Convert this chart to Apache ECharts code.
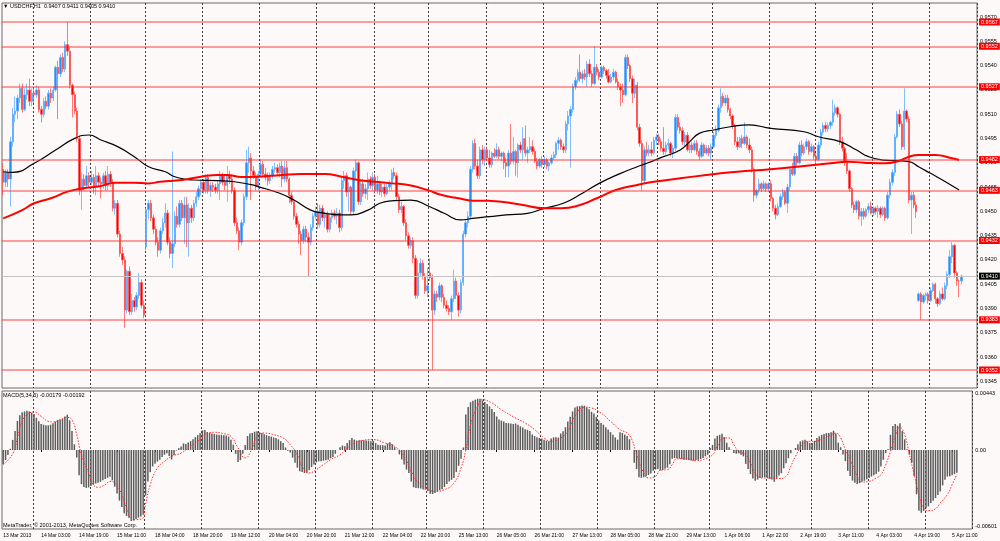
<!DOCTYPE html>
<html><head><meta charset="utf-8">
<script src="https://cdn.jsdelivr.net/npm/echarts@6/dist/echarts.min.js"></script>
<style>html,body{margin:0;padding:0;background:#fdf9f8}#c{width:1000px;height:541px}</style>
</head><body><div id="c"></div>
<script>
// ---- data (prices in pips above 0.9300, MACD in units of 0.00001) ----
const symbol = 'USDCHF,H1';
const xLabels = ['13 Mar 2013','14 Mar 03:00','14 Mar 19:00','15 Mar 11:00','18 Mar 04:00','18 Mar 20:00','19 Mar 12:00','20 Mar 04:00','20 Mar 20:00','21 Mar 12:00','22 Mar 04:00','22 Mar 20:00','25 Mar 13:00','26 Mar 05:00','26 Mar 21:00','27 Mar 13:00','28 Mar 05:00','28 Mar 21:00','29 Mar 13:00','1 Apr 06:00','1 Apr 22:00','2 Apr 19:00','3 Apr 11:00','4 Apr 03:00','4 Apr 19:00','5 Apr 11:00'];
const dayIdx = [13,37,60,84,108,132,156,179,203,227,251,275,298,322,341,365,389];
const priceTicks = [45,60,75,90,105,120,135,150,165,180,195,210,225,240,255,270];
const macdTicks = [443,0,-601];
const levels = [267,252,227,182,163,132,83,52];
const lastPrice = 110;

const opens = [
176,168,174,170,193,210,212,220,226,213,
222,225,218,223,222,225,213,210,218,215,
223,220,225,239,235,245,238,253,249,228,
222,212,195,163,170,166,172,168,171,165,
172,168,167,172,166,173,168,152,155,136,
124,120,89,113,88,95,91,98,106,92,
128,151,155,146,139,131,126,138,143,149,
131,124,130,147,142,155,146,154,143,152,
146,155,159,164,168,163,171,163,166,165,
163,167,172,168,166,172,170,163,143,138,
131,143,159,180,183,175,172,165,173,179,
173,171,169,172,176,177,174,178,170,177,
170,160,156,147,142,136,132,139,134,131,
140,147,150,142,152,146,148,139,146,149,
147,149,140,169,172,162,165,150,175,180,
156,167,161,164,170,166,171,163,167,162,
165,161,165,167,174,172,159,151,153,143,
135,129,132,121,98,112,118,110,101,112,
109,89,99,97,104,97,92,90,88,96,
107,98,89,106,136,143,147,176,192,178,
172,188,182,188,183,179,186,184,188,184,
186,180,178,186,181,187,180,191,188,195,
186,188,190,187,181,178,182,179,182,178,
180,183,185,192,194,190,188,204,209,213,
227,231,236,232,235,233,241,235,229,239,
236,233,239,237,234,230,233,236,230,227,
225,222,245,240,232,223,228,202,192,169,
188,186,188,186,194,196,193,189,187,191,
192,186,189,208,202,200,193,197,188,191,
188,192,187,184,191,186,189,186,190,197,
200,214,221,217,220,213,209,203,193,190,
195,192,196,191,188,176,160,163,167,164,
167,164,167,158,152,148,153,159,162,155,
165,176,173,184,180,191,186,190,193,187,
190,184,182,191,199,203,201,203,205,211,
214,210,193,189,181,175,164,154,151,156,
147,150,147,151,153,149,152,150,152,148,
152,146,160,168,174,196,210,204,190,212,
207,157,160,154,95,99,94,98,99,95,
101,105,96,93,99,96,104,111,122,129,
112,107,107];
const highs = [
180,176,176,196,214,221,222,229,229,226,
229,232,226,226,228,227,215,220,221,225,
226,227,240,243,247,248,255,267,251,229,
224,214,197,174,173,178,174,175,173,178,
174,171,174,175,178,175,170,157,157,138,
128,122,114,116,99,97,100,112,108,95,
152,157,157,148,141,134,140,146,155,151,
134,187,150,153,157,157,159,159,155,154,
157,162,166,170,170,173,173,168,168,167,
169,175,174,173,178,175,172,165,146,140,
145,161,188,190,186,178,174,175,182,181,
177,174,174,178,180,179,180,181,181,181,
171,162,158,149,144,138,141,141,137,142,
149,153,155,154,154,150,150,148,151,151,
152,151,171,175,174,168,166,177,182,181,
169,170,167,174,172,174,173,172,169,167,
167,167,169,176,177,174,161,156,154,145,
137,134,134,123,120,121,120,112,115,121,
111,101,101,106,105,99,95,92,98,114,
109,100,108,138,145,150,178,194,195,182,
190,191,190,190,188,187,189,192,190,187,
187,183,188,204,196,188,192,193,202,203,
190,196,194,189,183,183,184,184,183,181,
185,187,193,196,195,192,206,212,215,229,
233,238,247,237,238,243,244,237,252,241,
238,240,240,238,238,235,238,237,232,229,
229,247,247,241,234,232,230,204,194,190,
193,191,193,196,198,198,195,202,193,195,
193,191,210,210,205,202,199,199,193,193,
194,194,189,193,192,191,191,192,199,203,
216,226,223,222,222,214,210,204,196,196,
197,205,197,195,190,177,164,170,168,169,
168,168,169,159,154,155,161,164,163,167,
178,180,186,186,193,194,192,195,194,192,
191,186,193,201,205,205,205,206,219,216,
215,211,196,190,186,176,165,156,157,157,
152,152,152,155,156,153,153,154,153,153,
153,162,170,176,198,212,213,206,226,213,
209,162,162,156,100,100,99,100,100,103,
106,106,97,101,103,106,113,126,131,130,
113,108,111];
const lows = [
160,165,165,153,190,205,207,217,211,212,
219,215,215,217,220,211,205,208,213,213,
217,218,224,207,233,236,236,246,226,208,
210,193,160,151,163,164,165,166,161,160,
165,158,164,163,163,165,150,148,134,122,
117,78,87,86,86,88,89,96,90,84,
126,145,144,136,129,122,124,136,140,129,
121,115,128,140,140,144,130,128,122,143,
144,153,157,160,161,161,161,159,162,161,
161,157,166,163,156,167,161,141,136,126,
129,141,157,174,157,170,163,163,171,171,
169,166,167,170,174,172,171,165,168,168,
155,154,145,140,130,123,130,131,110,129,
138,145,139,140,144,140,137,137,143,145,
142,137,138,164,159,150,148,148,170,154,
154,159,158,157,164,163,161,161,160,159,
159,160,163,163,170,157,149,149,141,132,
127,127,118,96,96,110,108,99,97,107,
52,86,94,95,94,90,88,86,83,94,
96,85,87,104,134,140,145,174,176,170,
170,179,178,181,177,177,183,183,182,181,
176,171,171,179,179,172,171,186,182,184,
180,186,185,180,176,177,177,177,176,175,
179,182,183,188,188,186,186,200,177,211,
225,229,230,229,231,227,233,227,228,234,
231,232,235,232,229,229,231,229,225,215,
217,221,238,230,217,220,200,190,163,167,
184,184,184,185,191,191,187,185,185,188,
184,183,187,200,198,191,190,187,186,186,
187,185,182,183,184,185,184,182,189,195,
199,211,215,215,211,207,201,191,188,189,
189,191,189,186,174,156,158,161,162,163,
162,162,156,150,145,147,152,157,154,149,
163,172,172,178,179,184,185,188,185,186,
182,179,181,189,197,199,199,201,203,209,
208,191,187,178,173,162,152,149,149,145,
141,145,146,149,148,147,148,146,146,147,
144,145,158,166,172,195,202,188,188,205,
155,136,152,146,94,83,93,95,93,94,
100,93,91,92,95,95,102,109,118,109,
104,97,105];
const closes = [
168,174,170,193,210,212,220,226,213,222,
225,218,223,222,225,213,210,218,215,223,
220,225,239,235,245,238,253,249,228,222,
212,195,163,170,166,172,168,171,165,172,
168,167,172,166,173,168,152,155,136,124,
120,89,113,88,95,91,98,106,92,86,
151,155,146,139,131,126,138,143,149,131,
124,130,147,142,155,146,154,143,152,146,
155,159,164,168,163,171,163,166,165,163,
167,172,168,166,172,170,163,143,138,131,
143,159,180,183,175,172,165,173,179,173,
171,169,172,176,177,174,178,170,177,170,
160,156,147,142,136,132,139,134,131,140,
147,150,142,152,146,148,139,146,149,147,
149,140,169,172,162,165,150,175,180,156,
167,161,164,170,166,171,163,167,162,165,
161,165,167,174,172,159,151,153,143,135,
129,132,121,98,112,118,110,101,104,109,
89,99,97,104,97,92,90,88,96,107,
98,89,106,136,143,147,176,192,178,172,
188,182,188,183,179,186,184,188,184,186,
180,178,186,181,187,180,191,188,195,186,
188,190,187,181,178,182,179,182,178,180,
183,185,192,194,190,188,204,209,213,227,
231,236,232,235,233,241,235,229,239,236,
233,239,237,234,230,233,236,230,227,225,
222,245,240,232,223,228,202,192,169,188,
186,188,186,194,196,193,189,187,191,192,
186,189,208,202,200,193,197,188,191,188,
192,187,184,191,186,189,186,190,197,200,
214,221,217,220,213,209,203,193,190,195,
192,196,191,188,176,160,163,167,164,167,
164,167,158,152,148,153,159,162,155,165,
176,173,184,180,191,186,190,193,187,190,
184,182,191,199,203,201,203,205,211,214,
210,193,189,181,175,164,154,151,156,147,
150,147,151,153,149,152,150,152,148,152,
146,160,168,174,196,210,204,190,212,207,
157,160,154,150,99,94,98,99,95,101,
105,96,93,99,96,104,111,122,129,112,
107,107,110];
const macdHist = [
-110,-80,-40,10,80,150,230,275,298,305,
310,305,295,285,255,228,205,200,195,195,
200,212,225,238,240,245,265,278,235,150,
45,-60,-200,-270,-293,-300,-296,-285,-275,-265,
-260,-252,-240,-230,-220,-212,-240,-290,-345,-400,
-450,-500,-522,-535,-562,-558,-546,-535,-525,-512,
-360,-250,-175,-130,-108,-92,-78,-55,-38,-25,
-48,-75,-40,-5,15,28,52,48,60,70,
85,102,118,135,155,158,142,135,130,127,
122,120,120,116,114,106,82,42,-30,-95,
-80,-30,40,110,130,135,145,148,140,132,
124,118,110,106,100,94,84,70,56,20,
-5,-20,-60,-100,-140,-168,-174,-182,-180,-160,
-135,-115,-98,-90,-88,-84,-82,-77,-65,-55,
-30,0,22,36,30,55,78,95,82,75,
78,76,78,76,74,69,72,55,42,38,
37,35,50,62,45,22,2,-35,-75,-115,
-155,-182,-250,-295,-300,-302,-305,-312,-314,-325,
-346,-348,-340,-328,-318,-310,-292,-268,-250,-236,
-222,-175,-125,-70,20,280,340,378,390,398,
405,405,392,380,364,345,325,300,265,242,
232,226,214,212,210,206,210,200,187,178,
164,160,150,122,110,100,95,90,82,74,
69,90,100,100,98,130,148,180,225,262,
305,336,345,347,352,350,336,322,302,288,
262,234,214,200,180,162,142,121,100,82,
140,135,122,110,85,0,-100,-150,-215,-220,
-215,-208,-198,-185,-165,-155,-150,-162,-158,-148,
-140,-112,-70,-63,-63,-68,-72,-77,-78,-80,
-84,-84,-80,-78,-71,-63,-50,-37,15,40,
90,112,120,128,102,58,22,2,-24,-30,
-26,-37,-50,-110,-150,-190,-226,-243,-234,-222,
-218,-214,-220,-228,-234,-252,-222,-202,-184,-145,
-105,-65,-26,0,16,45,68,76,82,68,
56,55,72,94,108,120,127,134,134,140,
152,130,58,22,-35,-88,-165,-206,-242,-260,
-268,-262,-252,-243,-232,-221,-210,-200,-190,-172,
-130,-78,-25,5,120,190,206,192,212,150,
85,5,-37,-100,-205,-350,-480,-496,-482,-460,
-446,-420,-402,-380,-355,-328,-280,-236,-210,-207,
-200,-190,-179];
const macdSignal = [[0,-116],[4,-30],[6,95],[8,227],[11,292],[13,300],[16,266],[19,227],[21,222],[24,240],[27,258],[29,240],[31,121],[33,-37],[36,-182],[38,-274],[40,-295],[43,-274],[45,-248],[47,-261],[50,-353],[52,-459],[55,-551],[59,-537],[60,-432],[62,-274],[65,-142],[68,-90],[71,-50],[75,-24],[79,29],[82,69],[85,121],[89,140],[93,129],[96,108],[99,16],[102,-63],[105,16],[107,108],[110,134],[114,121],[118,95],[121,42],[124,-37],[126,-129],[129,-182],[132,-155],[135,-116],[138,-77],[142,-37],[146,29],[150,69],[156,82],[161,55],[165,29],[169,-50],[172,-169],[175,-261],[178,-300],[182,-327],[186,-314],[190,-261],[193,-142],[195,0],[197,200],[200,345],[202,398],[206,372],[210,319],[216,253],[220,214],[224,161],[228,95],[231,69],[235,95],[238,148],[241,266],[245,338],[248,332],[252,292],[256,227],[260,161],[263,134],[265,82],[267,-37],[270,-182],[272,-221],[275,-208],[277,-160],[280,-155],[282,-116],[284,-69],[288,-69],[292,-84],[296,-69],[299,-37],[301,29],[304,95],[306,95],[308,42],[310,-11],[313,-37],[315,-103],[317,-182],[320,-221],[324,-221],[327,-227],[330,-208],[332,-129],[334,-50],[337,42],[340,69],[342,69],[346,95],[349,121],[351,134],[353,95],[355,3],[358,-116],[360,-208],[362,-253],[365,-248],[368,-221],[370,-195],[372,-116],[374,-11],[376,108],[378,179],[380,121],[382,-37],[384,-195],[386,-353],[388,-459],[390,-480],[393,-464],[395,-419],[398,-353],[400,-274],[402,-192]];
const maBlack = [[0,174.5],[4,174.1],[13,179.7],[22,187.9],[30,195.1],[36,197.2],[41,194.1],[48,190],[55,183.8],[61,177.6],[68,174.5],[72,171.4],[80,169.4],[90,169],[97,168.3],[104,166.5],[107,165.3],[116,161.2],[122,157],[129,150.8],[135,148.8],[142,147.8],[146,147.8],[153,150.8],[158,155],[164,156.6],[171,157],[179,152.9],[185,148.8],[192,144.7],[197,145.7],[204,146.7],[211,147.8],[220,148.8],[227,151.9],[235,155],[243,161.2],[250,167.3],[259,173.5],[266,177.6],[270,179.7],[277,183.8],[284,187.9],[288,193.1],[292,198.2],[298,200.3],[305,202.3],[313,203.4],[322,201.3],[336,199.2],[342,196.1],[351,193.1],[358,187.9],[363,183.8],[369,181.7],[375,181.3],[380,180.7],[384,177.6],[389,173.5],[394,169.4],[401,163.2]];
const maRed = [[0,145.7],[8,150.8],[13,155],[20,158.1],[27,162.2],[33,164.2],[41,165.7],[47,167.7],[55,167.7],[61,167.3],[66,168.3],[75,169.4],[83,171.4],[90,172.5],[94,172.5],[100,171.2],[107,171.4],[117,172.5],[125,173.1],[135,173.1],[142,171.4],[149,169.4],[156,168.3],[163,167.3],[170,166.3],[178,163.2],[184,160.1],[191,158.1],[197,156.6],[204,156.5],[209,156],[218,153.9],[227,151.9],[234,151.9],[242,153.9],[249,158.1],[257,163.2],[266,166.3],[273,168.3],[284,170.4],[295,172.5],[301,173.5],[308,174.5],[322,176],[333,177.6],[347,179.7],[354,180.7],[361,180.1],[370,179.7],[376,181.3],[380,183.8],[384,184.8],[391,184.8],[398,182.8],[401,181.7]];

// ---- chart ----
const nSlots = 409;
const FONT = 'Liberation Sans, Arial, sans-serif';
const fmt = v => ((9300 + v) / 10000).toFixed(4);
const fmtM = v => v === 0 ? '0.00' : (v / 100000).toFixed(5);
const categories = Array.from({length: nSlots}, (_, i) => String(i));
const daySet = new Set(dayIdx);
const dayFn = i => daySet.has(i);
const labFn = i => i % 16 === 0 && i / 16 < xLabels.length;
const candles = opens.map((o, i) => [o, closes[i], lows[i], highs[i]]);
const n = opens.length - 1;
const txt = {fontSize: 5.5, fontWeight: 'normal', color: '#000', fontFamily: FONT};

const chart = echarts.init(document.getElementById('c'), null, {renderer: 'canvas'});
chart.setOption({
  animation: false,
  backgroundColor: '#fdf9f8',
  title: [
    {text: '\u25BC ' + symbol + '  ' + [opens[n], highs[n], lows[n], closes[n]].map(fmt).join(' '), left: 3, top: 3, padding: 0, textStyle: txt},
    {text: 'MACD(5,34,5) ' + fmtM(macdHist[n]) + ' ' + fmtM(macdSignal[macdSignal.length - 1][1]), left: 3, top: 392, padding: 0, textStyle: txt},
    {text: 'MetaTrader, \u00A9 2001-2013, MetaQuotes Software Corp.', left: 3, top: 522, padding: 0, textStyle: txt}
  ],
  grid: [
    {left: 2, right: 23, top: 3, bottom: 153, show: true, borderColor: '#6a6a6a', borderWidth: 1},
    {left: 2, right: 23, top: 391, bottom: 12, show: true, borderColor: '#6a6a6a', borderWidth: 1}
  ],
  xAxis: [0, 1].map(g => ({
    type: 'category', gridIndex: g, data: categories, boundaryGap: true,
    axisLine: {show: false},
    axisTick: {show: g === 1, interval: labFn, alignWithLabel: true, length: 2, lineStyle: {color: '#000'}},
    axisLabel: {show: g === 1, interval: labFn, formatter: (v, i) => xLabels[i / 16] || '', align: 'left',
      fontSize: 5, color: '#000', fontFamily: FONT, margin: 4},
    splitLine: {show: true, interval: dayFn, lineStyle: {color: '#3c3c3c', width: 1, type: [2, 2]}}
  })),
  yAxis: [
    {type: 'value', gridIndex: 0, position: 'right', min: 40.88, max: 278.74, scale: true,
      axisLine: {show: false}, splitLine: {show: false},
      axisTick: {show: false},
      axisLabel: {customValues: priceTicks, formatter: v => fmt(v), fontSize: 5.5, color: '#000', fontFamily: FONT, margin: 3}},
    {type: 'value', gridIndex: 1, position: 'right', min: -624.8, max: 466.6,
      axisLine: {show: false}, splitLine: {show: false},
      axisTick: {show: false},
      axisLabel: {customValues: macdTicks, formatter: v => fmtM(v), fontSize: 5.5, color: '#000', fontFamily: FONT, margin: 3}}
  ],
  series: [
    {type: 'candlestick', xAxisIndex: 0, yAxisIndex: 0, data: candles, barWidth: 1.9,
      itemStyle: {color: '#1e90ff', color0: '#ff0000', borderColor: '#5aaaff', borderColor0: '#ff5050', borderColorDoji: '#ff5050', borderWidth: 0.75},
      markLine: {
        symbol: 'none', silent: true, animation: false,
        lineStyle: {color: 'rgba(255,40,40,0.6)', width: 1.5, type: 'solid'},
        label: {position: 'end', distance: 2, formatter: p => fmt(p.value), color: '#fff', backgroundColor: '#ff0000',
          fontSize: 5.5, fontFamily: FONT, padding: [1, 2, 0, 2]},
        data: levels.map(v => ({yAxis: v})).concat([
          {yAxis: lastPrice, lineStyle: {color: '#c4c4c4', width: 1}, label: {backgroundColor: '#000'}}
        ])
      }},
    {type: 'line', xAxisIndex: 0, yAxisIndex: 0, data: maBlack, smooth: 0.5, showSymbol: false,
      lineStyle: {color: '#000', width: 1.2}},
    {type: 'line', xAxisIndex: 0, yAxisIndex: 0, data: maRed, smooth: 0.5, showSymbol: false,
      lineStyle: {color: '#ff0000', width: 2}},
    {type: 'bar', xAxisIndex: 1, yAxisIndex: 1, data: macdHist, barWidth: 1.5,
      itemStyle: {color: '#5c5c5c'}},
    {type: 'line', xAxisIndex: 1, yAxisIndex: 1, data: macdSignal, smooth: 0.5, showSymbol: false,
      lineStyle: {color: '#ff2a2a', width: 1, type: [1.5, 1.5]}}
  ]
});
</script>
</body></html>
